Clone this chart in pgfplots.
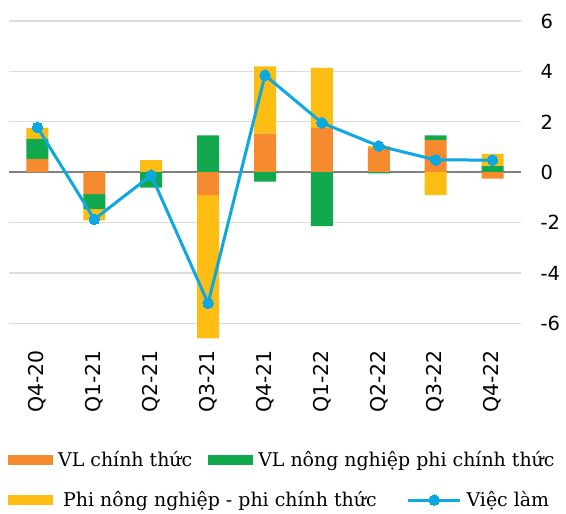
\documentclass[border=0pt]{standalone}
\usepackage{fontspec}
\setmainfont{DejaVu Serif}
\newfontfamily\tickfont{DejaVu Sans}
\usepackage{pgfplots}
\pgfplotsset{compat=1.18}
\definecolor{corange}{HTML}{F58A2E}
\definecolor{cgreen}{HTML}{12A84E}
\definecolor{cyellow}{HTML}{FDBD12}
\definecolor{cblue}{HTML}{0EA8E0}
\definecolor{gridgray}{HTML}{DCDCDC}
\definecolor{zerogray}{HTML}{808080}
\pgfplotsset{
  boxsize/.style={scale only axis, width=512bp, height=325bp,
    xmin=-0.5, xmax=8.5, ymin=-6.7, ymax=6.2},
  overlay/.style={at={(ax.south west)}, anchor=south west, boxsize, hide axis},
  legfont/.style={font=\fontsize{19}{23}\selectfont},
  swatch/.style={legend image code/.code={\fill[##1] (0bp,-5bp) rectangle (45bp,5bp);}},
  linekey/.style={legend image code/.code={\draw[mark repeat=2, mark phase=2, ##1] plot coordinates {(0bp,0bp) (26bp,0bp) (52bp,0bp)};}},
  totline/.style={draw=cblue, line width=3bp, mark=*, mark size=5.3bp,
    mark options={fill=cblue, draw=cblue, line width=0pt}},
}
\begin{document}
\begin{tikzpicture}
% positive parts + grid + ticks
\begin{axis}[name=ax, boxsize,
  ybar stacked, bar width=22bp,
  xtick={0,...,8},
  xticklabels={Q4-20,Q1-21,Q2-21,Q3-21,Q4-21,Q1-22,Q2-22,Q3-22,Q4-22},
  xticklabel style={rotate=90, anchor=east, xshift=-6bp, font=\tickfont\fontsize{20.5}{24}\selectfont},
  ytick={-6,-4,...,6},
  yticklabels={-6,-4,-2,0,2,4,6},
  yticklabel pos=right,
  yticklabel style={anchor=west, xshift=16bp, font=\tickfont\fontsize{19.5}{23}\selectfont},
  ymajorgrids, grid style={draw=gridgray, line width=1.2bp},
  extra y ticks={0}, extra y tick labels={},
  extra y tick style={grid style={draw=zerogray, line width=1.5bp}},
  axis line style={draw=none}, major tick length=0pt, tick style={draw=none},
]
\addplot[fill=corange, draw=none] coordinates {(0,0.53) (1,0) (2,0) (3,0) (4,1.53) (5,1.76) (6,0.97) (7,1.27) (8,0)};
\addplot[fill=cgreen, draw=none] coordinates {(0,0.79) (1,0) (2,0) (3,1.46) (4,0) (5,0) (6,0) (7,0.19) (8,0.24)};
\addplot[fill=cyellow, draw=none] coordinates {(0,0.44) (1,0) (2,0.48) (3,0) (4,2.67) (5,2.38) (6,0.07) (7,0) (8,0.49)};
\end{axis}

% negative parts
\begin{axis}[overlay, ybar stacked, bar width=22bp]
\addplot[fill=corange, draw=none] coordinates {(0,0) (1,-0.87) (2,0) (3,-0.91) (4,0) (5,0) (6,0) (7,0) (8,-0.25)};
\addplot[fill=cgreen, draw=none] coordinates {(0,0) (1,-0.60) (2,-0.61) (3,0) (4,-0.37) (5,-2.14) (6,-0.05) (7,0) (8,0)};
\addplot[fill=cyellow, draw=none] coordinates {(0,0) (1,-0.44) (2,0) (3,-5.69) (4,0) (5,0) (6,0) (7,-0.91) (8,0)};
\end{axis}

% total employment line
\begin{axis}[overlay, clip=false]
\addplot[totline]
  coordinates {(0,1.78) (1,-1.87) (2,-0.12) (3,-5.20) (4,3.85) (5,1.96) (6,1.04) (7,0.49) (8,0.48)};
\end{axis}

% legend row 1
\begin{axis}[overlay,
  legend columns=2,
  legend style={at={(0,0)}, anchor=west, xshift=-1bp, yshift=-119bp,
    draw=none, fill=none, inner sep=0pt, legfont,
    /tikz/every even column/.append style={column sep=14bp}},
]
\addlegendimage{fill=corange, draw=none, swatch}
\addlegendentry{\hspace{3bp}VL chính thức}
\addlegendimage{fill=cgreen, draw=none, swatch}
\addlegendentry{\hspace{3bp}VL nông nghiệp phi chính thức}
\end{axis}

% legend row 2
\begin{axis}[overlay,
  legend columns=2,
  legend style={at={(0,0)}, anchor=west, xshift=-1bp, yshift=-159bp,
    draw=none, fill=none, inner sep=0pt, legfont,
    /tikz/every even column/.append style={column sep=28bp}},
]
\addlegendimage{fill=cyellow, draw=none, swatch}
\addlegendentry{\hspace{8bp}Phi nông nghiệp - phi chính thức}
\addlegendimage{totline, linekey}
\addlegendentry{\hspace{3bp}Việc làm}
\end{axis}

\pgfresetboundingbox
\path ([xshift=-9bp,yshift=-172bp]ax.south west) rectangle ([xshift=45bp,yshift=16bp]ax.north east);
\end{tikzpicture}
\end{document}
